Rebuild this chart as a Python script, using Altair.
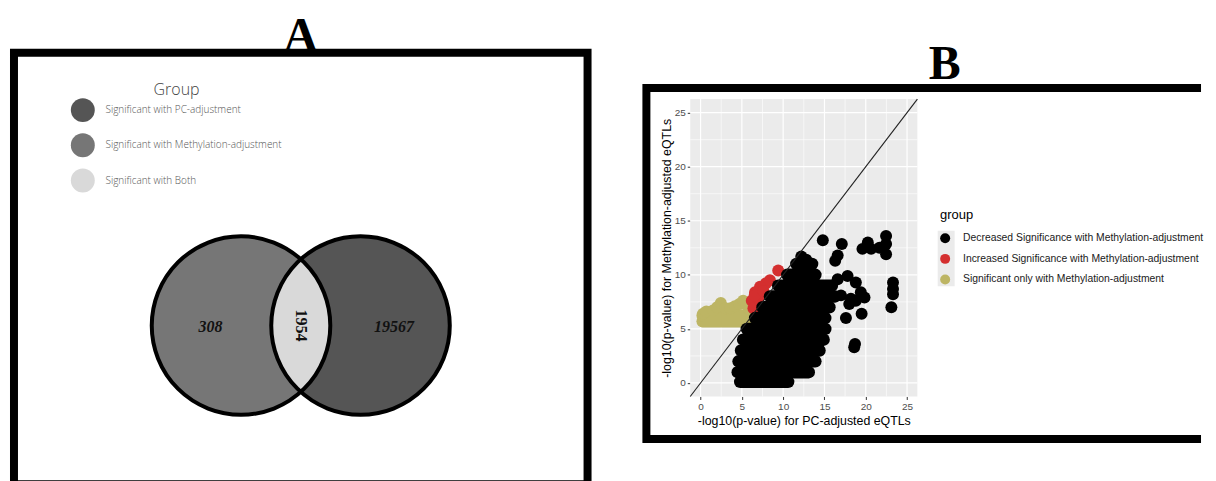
import math
import altair as alt
import pandas as pd

# ---------------- Panel A : Venn diagram ----------------
venn_groups = ["Significant with PC-adjustment",
               "Significant with Methylation-adjustment",
               "Significant with Both"]
venn_colors = ["#555555", "#767676", "#d9d9d9"]

circle_group = ["Significant with Methylation-adjustment", "Significant with PC-adjustment"]
circle_x = [-0.5, 0.5]
circle_y = [0.0, 0.0]

lens_group = ["Significant with Both"]
lens_x = [0.0]
lens_y = [0.0]

count_text = ["308", "19567"]
count_x = [-0.755, 0.78]
count_y = [-0.01, -0.01]
both_text = ["1954"]
both_x = [0.0]
both_y = [0.0]

panel_labels = ["A", "B"]

# ---------------- Panel B : scatter ----------------
b_groups = ["Decreased Significance with Methylation-adjustment",
            "Increased Significance with Methylation-adjustment",
            "Significant only with Methylation-adjustment"]
b_colors = ["#000000", "#d42f2f", "#bdb564"]

# rows of densely overlapping points (centre y, leftmost x, rightmost x)
yellow_row_y = [5.7, 6.25]
yellow_row_x1 = [0.25, 0.25]
yellow_row_x2 = [5.6, 5.8]

black_row_y = [0.1, 1.0, 2.0, 3.0, 4.0, 5.0, 6.0, 7.0, 8.0, 9.0, 10.0, 11.0]
black_row_x1 = [4.8, 4.5, 4.6, 4.9, 5.15, 5.6, 6.6, 7.5, 8.4, 9.4, 10.5, 11.6]
black_row_x2 = [10.6, 13.1, 13.9, 14.4, 14.9, 15.1, 15.1, 15.6, 16.3, 15.9, 13.9, 13.5]

# individual points
yellow_x = [0.3, 0.7, 1.5, 2.0, 2.45, 3.0, 3.6, 4.15, 4.7, 5.15, 5.5, 5.9]
yellow_y = [6.4, 6.6, 6.7, 7.0, 7.4, 6.9, 6.9, 7.1, 7.3, 7.6, 7.3, 6.8]

red_x = [9.4, 8.4, 7.9, 7.2, 6.6, 6.2, 6.4, 7.0, 6.55, 7.6]
red_y = [10.4, 9.5, 9.2, 8.9, 8.4, 7.6, 6.9, 7.8, 8.1, 8.5]

black_x = [12.2, 12.8, 14.8, 17.1, 16.6, 16.3, 16.6, 17.8, 18.8, 19.4, 19.85, 18.2,
           17.0, 18.0, 18.8, 17.6, 19.5, 18.7, 18.6, 20.25, 19.6, 20.65, 21.66,
           22.46, 22.46, 22.46, 23.3, 23.3, 23.3, 23.1]
black_y = [11.7, 11.4, 13.2, 12.85, 11.8, 11.3, 9.6, 9.9, 9.3, 8.4, 7.9, 7.8,
           8.1, 7.3, 7.6, 6.0, 6.4, 3.6, 3.3, 13.0, 12.4, 12.4, 12.5,
           13.6, 12.85, 11.9, 9.3, 8.7, 8.2, 7.0]

panel_lo = [-1.25]
panel_hi = [26.25]
grid_major = [0, 5, 10, 15, 20, 25]
grid_minor = [2.5, 7.5, 12.5, 17.5, 22.5]
abline_x = [-1.25, 26.25]
tick_values = [0, 5, 10, 15, 20, 25]

# ================= Panel A =================
A_W, A_H = 575, 432.5
R_PX = 89.5
UNIT_PX = A_W / 4.8
CY_PX = 273.5
ax_scale = alt.Scale(domain=[-2.4, 2.4], range=[0, A_W], nice=False, zero=False)
ay_scale = alt.Scale(domain=[-(A_H - CY_PX) / UNIT_PX, CY_PX / UNIT_PX], range=[A_H, 0],
                     nice=False, zero=False)
circle_size = (2 * R_PX) ** 2
half = 0.5 * UNIT_PX / R_PX
hh = math.sqrt(1 - half * half)
lens_path = f"M0,{-hh:.4f}A1,1,0,0,1,0,{hh:.4f}A1,1,0,0,1,0,{-hh:.4f}Z"

legend_a = alt.Legend(orient="none", legendX=57, legendY=29.5, title="Group",
                      titleFont="Open Sans", titleFontSize=16, titleFontWeight=300,
                      titleColor="#444444", titleAnchor="middle", titlePadding=0,
                      labelFont="Open Sans", labelFontSize=10, labelFontWeight=300,
                      labelColor="#555555", labelOffset=10.7, labelLimit=400,
                      symbolType="circle", symbolSize=576, symbolStrokeWidth=0,
                      rowPadding=11.3, padding=0)
color_a = alt.Color("group:N", scale=alt.Scale(domain=venn_groups, range=venn_colors),
                    legend=legend_a)
xa = alt.X("x:Q", scale=ax_scale, axis=None)
ya = alt.Y("y:Q", scale=ay_scale, axis=None)

circ_df = pd.DataFrame({"x": circle_x, "y": circle_y, "group": circle_group})
lens_df = pd.DataFrame({"x": lens_x, "y": lens_y, "group": lens_group})
cnt_df = pd.DataFrame({"x": count_x, "y": count_y, "t": count_text})
both_df = pd.DataFrame({"x": both_x, "y": both_y, "t": both_text})
lab_a_df = pd.DataFrame({"t": [panel_labels[0]]})
lab_b_df = pd.DataFrame({"t": [panel_labels[1]]})

fills = alt.Chart(circ_df).mark_point(shape="circle", filled=True, opacity=1,
                                      size=circle_size, strokeWidth=0).encode(x=xa, y=ya, color=color_a)
lens = alt.Chart(lens_df).mark_point(shape=lens_path, filled=True, opacity=1,
                                     size=circle_size, strokeWidth=0).encode(x=xa, y=ya, color=color_a)
outlines = alt.Chart(circ_df).mark_point(shape="circle", filled=False, opacity=1, color="black",
                                         size=circle_size, strokeWidth=4).encode(x=xa, y=ya)
counts = alt.Chart(cnt_df).mark_text(font="Liberation Serif", fontSize=16, fontWeight="bold",
                                     fontStyle="italic", color="#111111").encode(x=xa, y=ya, text="t:N")
both = alt.Chart(both_df).mark_text(font="Liberation Serif", fontSize=16, fontWeight="bold",
                                    angle=90, color="#111111").encode(x=xa, y=ya, text="t:N")
title_a = alt.Chart(lab_a_df).mark_text(font="Liberation Serif", fontSize=48, fontWeight="bold",
                                        color="black", align="center", baseline="alphabetic").encode(
    x=alt.value(A_W / 2), y=alt.value(-2), text="t:N")

chartA = alt.layer(fills, lens, outlines, counts, both, title_a).properties(width=A_W, height=A_H)

# ================= Panel B =================
B_W, B_H = 556, 352
bx_scale = alt.Scale(domain=[-1.25, 26.25], range=[43.95, 271.65], nice=False, zero=False)
by_scale = alt.Scale(domain=[-1.25, 26.25], range=[309.35, 11.25], nice=False, zero=False)

xaxis = alt.Axis(values=tick_values, grid=False, domain=False, tickColor="#333333", tickSize=3,
                 tickWidth=1, labelColor="#4d4d4d", labelFont="Liberation Sans", labelFontSize=10,
                 labelPadding=2, labelFlush=False,
                 title="-log10(p-value) for PC-adjusted eQTLs", titleFont="Liberation Sans",
                 titleFontSize=12.4, titleFontWeight="normal", titleColor="black",
                 titlePadding=3, offset=-42.65)
yaxis = alt.Axis(values=tick_values, grid=False, domain=False, tickColor="#333333", tickSize=3,
                 tickWidth=1, labelColor="#4d4d4d", labelFont="Liberation Sans", labelFontSize=10,
                 labelPadding=2, labelFlush=False,
                 title="-log10(p-value) for Methylation-adjusted eQTLs", titleFont="Liberation Sans",
                 titleFontSize=12.4, titleFontWeight="normal", titleColor="black",
                 titlePadding=0.5, offset=-43.95)

def bx(f):
    return alt.X(f, scale=bx_scale, axis=xaxis)

def by(f):
    return alt.Y(f, scale=by_scale, axis=yaxis)

legend_b = alt.Legend(orient="none", legendX=294.3, legendY=121.9, title="group",
                      titleFont="Liberation Sans", titleFontSize=13, titleFontWeight="normal",
                      titleColor="black", titlePadding=10.7,
                      labelFont="Liberation Sans", labelFontSize=10.4, labelColor="#1a1a1a",
                      labelOffset=12.7, labelLimit=400, symbolType="circle", symbolSize=100,
                      symbolStrokeWidth=0, rowPadding=9.6, padding=0)
bscale = alt.Scale(domain=b_groups, range=b_colors)

panel_df = pd.DataFrame({"lo": panel_lo, "hi": panel_hi})
gmaj_df = pd.DataFrame({"v": grid_major, "lo": panel_lo * len(grid_major), "hi": panel_hi * len(grid_major)})
gmin_df = pd.DataFrame({"v": grid_minor, "lo": panel_lo * len(grid_minor), "hi": panel_hi * len(grid_minor)})

rows_y_df = pd.DataFrame({"y": yellow_row_y, "x1": yellow_row_x1, "x2": yellow_row_x2})
rows_k_df = pd.DataFrame({"y": black_row_y, "x1": black_row_x1, "x2": black_row_x2})
pts_yr_df = pd.DataFrame({"x": yellow_x + red_x, "y": yellow_y + red_y,
                          "group": [b_groups[2]] * len(yellow_x) + [b_groups[1]] * len(red_x)})
pts_k_df = pd.DataFrame({"x": black_x, "y": black_y, "group": [b_groups[0]] * len(black_x)})
abl_df = pd.DataFrame({"x": abline_x, "y": abline_x})
one_df = pd.DataFrame({"k": [0]})

bg = alt.Chart(panel_df).mark_rect(color="#ebebeb").encode(
    x=bx("lo:Q"), x2="hi:Q", y=by("lo:Q"), y2="hi:Q")
gvmin = alt.Chart(gmin_df).mark_rule(color="white", strokeWidth=0.6).encode(x=bx("v:Q"), y=by("lo:Q"), y2="hi:Q")
ghmin = alt.Chart(gmin_df).mark_rule(color="white", strokeWidth=0.6).encode(y=by("v:Q"), x=bx("lo:Q"), x2="hi:Q")
gvmaj = alt.Chart(gmaj_df).mark_rule(color="white", strokeWidth=1.2).encode(x=bx("v:Q"), y=by("lo:Q"), y2="hi:Q")
ghmaj = alt.Chart(gmaj_df).mark_rule(color="white", strokeWidth=1.2).encode(y=by("v:Q"), x=bx("lo:Q"), x2="hi:Q")

rows_y = alt.Chart(rows_y_df).mark_rule(strokeWidth=12.5, strokeCap="round", opacity=1,
                                        color=b_colors[2]).encode(x=bx("x1:Q"), x2="x2:Q", y=by("y:Q"))
pts_yr = alt.Chart(pts_yr_df).mark_circle(size=144, opacity=1).encode(
    x=bx("x:Q"), y=by("y:Q"), color=alt.Color("group:N", scale=bscale, legend=legend_b))
rows_k = alt.Chart(rows_k_df).mark_rule(strokeWidth=12.5, strokeCap="round", opacity=1,
                                        color=b_colors[0]).encode(x=bx("x1:Q"), x2="x2:Q", y=by("y:Q"))
pts_k = alt.Chart(pts_k_df).mark_circle(size=144, opacity=1).encode(
    x=bx("x:Q"), y=by("y:Q"), color=alt.Color("group:N", scale=bscale, legend=legend_b))
abl = alt.Chart(abl_df).mark_line(color="#222222", strokeWidth=1.1).encode(x=bx("x:Q"), y=by("y:Q"))

# light grey legend-key column (ggplot legend.key background)
keys = alt.Chart(one_df).mark_rect(color="#ebebeb").encode(
    x=alt.value(292), x2=alt.value(309), y=alt.value(143.2), y2=alt.value(198.8))
# blank strip under frame B: keeps frame B at its vertical place when rows are centred
spacer = alt.Chart(one_df).mark_rect(color="white").encode(
    x=alt.value(0), x2=alt.value(10), y=alt.value(357), y2=alt.value(362))

title_b = alt.Chart(lab_b_df).mark_text(font="Liberation Serif", fontSize=48, fontWeight="bold",
                                        color="black", align="center", baseline="alphabetic").encode(
    x=alt.value(299), y=alt.value(-8.5), text="t:N")

chartB = alt.layer(bg, gvmin, ghmin, gvmaj, ghmaj, rows_y, pts_yr, rows_k, pts_k, abl,
                   keys, spacer, title_b).properties(
    width=B_W, height=B_H,
    # frame open on the right side (cut by the page edge in the original)
    view=alt.ViewBackground(stroke="black", strokeWidth=8,
                            strokeDash=[B_W, B_H, B_W + B_H + 20, 0]))

chart = alt.hconcat(chartA, chartB, spacing=51, center=True).resolve_scale(
    color="independent"
).properties(
    padding={"left": 2, "top": 0, "right": 0, "bottom": 0}
).configure(font="Liberation Sans", view=alt.ViewConfig(stroke="black", strokeWidth=8))

chart.save("out.html", embed_options={"renderer": "svg", "actions": False})
